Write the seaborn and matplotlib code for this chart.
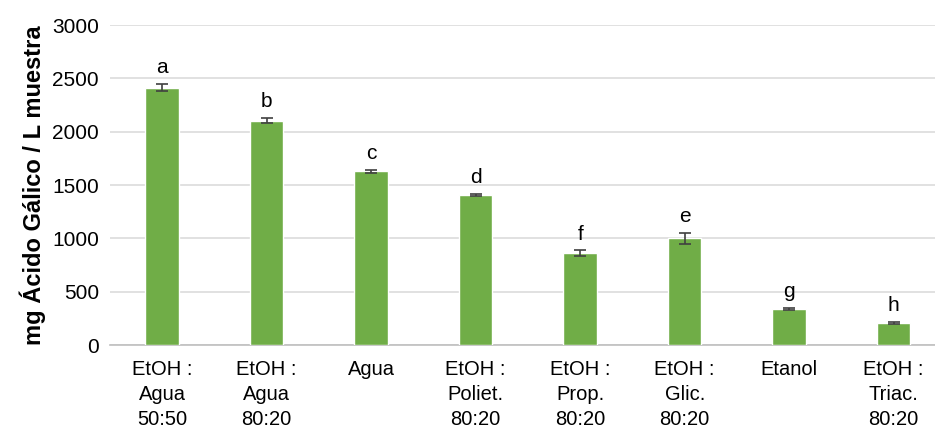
import matplotlib.pyplot as plt
import seaborn as sns
import numpy as np
import pandas as pd

# Datos
categorias = ["EtOH :\nAgua\n50:50", "EtOH :\nAgua\n80:20", "Agua", "EtOH :\nPoliet.\n80:20",
              "EtOH :\nProp.\n80:20", "EtOH :\nGlic.\n80:20", "Etanol", "EtOH :\nTriac.\n80:20"]
valores = [2415, 2105, 1630, 1408, 862, 1002, 335, 205]
errores = [35, 25, 12, 8, 25, 50, 10, 10]
letras = ["a", "b", "c", "d", "f", "e", "g", "h"]

sns.set_style("white")
plt.rcParams['font.family'] = ['Liberation Sans', 'DejaVu Sans']
plt.rcParams.update({"text.color": "black", "axes.labelcolor": "black",
                     "xtick.color": "black", "ytick.color": "black"})

df = pd.DataFrame({"cat": categorias, "val": valores})

fig = plt.figure(figsize=(9.35, 4.34), dpi=100)
ax = fig.add_axes([0.1176, 0.205, 0.8824, 0.737])

sns.barplot(data=df, x="cat", y="val", color="#70AD47", saturation=1, width=0.32, ax=ax, zorder=3)

# barras de error (desviacion)
centros = [p.get_x() + p.get_width() / 2 for p in ax.patches]
ax.errorbar(centros, valores, yerr=errores, fmt="none", ecolor="#404040",
            elinewidth=1.2, capsize=4, capthick=1.2, zorder=4)

# letras de significancia
for x, v, e, l in zip(centros, valores, errores, letras):
    ax.annotate(l, (x, v + e), xytext=(0, 5), textcoords="offset points",
                ha="center", va="bottom", fontsize=15)

ax.set_ylim(0, 3000)
ax.set_yticks(np.arange(0, 3001, 500))
ax.set_xlim(-0.5, 7.395)
ax.yaxis.grid(True, color="#d9d9d9", linewidth=1.1, zorder=0)
ax.set_axisbelow(True)
for s in ["top", "right", "left"]:
    ax.spines[s].set_visible(False)
ax.spines["bottom"].set_color("#bfbfbf")
ax.spines["bottom"].set_linewidth(1.2)

ax.tick_params(axis="y", length=0, labelsize=15, pad=8)
ax.tick_params(axis="x", length=0, labelsize=14.5, pad=11)
for t in ax.get_xticklabels():
    t.set_linespacing(1.4)
    t.set_va("top")
ax.set_xlabel("")
ax.set_ylabel("mg Ácido Gálico / L muestra", fontsize=17, fontweight="bold", labelpad=4)

plt.savefig("out.png", dpi=100)
